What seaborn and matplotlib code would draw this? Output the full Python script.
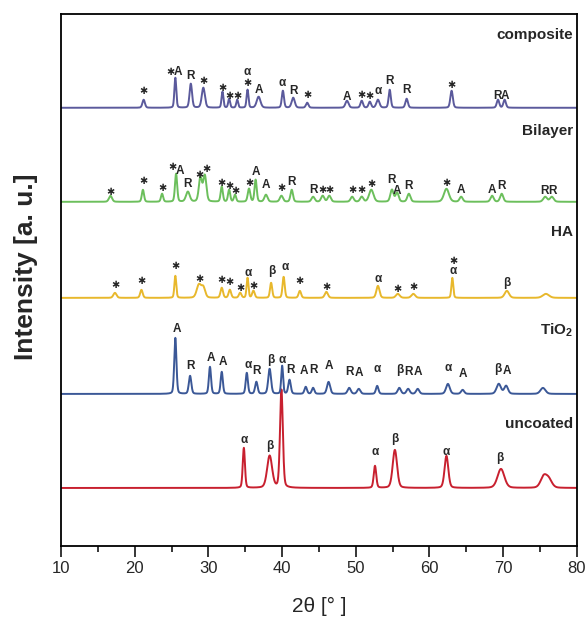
import numpy as np
import pandas as pd
import matplotlib
matplotlib.use('Agg')
import matplotlib.pyplot as plt
import seaborn as sns

# samples, bottom to top
samples = ['uncoated', 'TiO2', 'HA', 'Bilayer', 'composite']
titles = ['uncoated', 'TiO$_\\mathbf{2}$', 'HA', 'Bilayer', 'composite']
colors = ['#c8202f', '#3b5897', '#e8b82c', '#6cbf5c', '#5b5a9c']
offsets = [58, 152, 248, 344, 438]

# peaks: position [deg], height [a.u.], width [deg]
uncoated_pos = [34.8, 38.3, 39.9, 52.6, 55.3, 62.3, 69.7, 75.5, 76.2]
uncoated_hgt = [40, 32, 98, 22, 38, 32, 19, 11, 8]
uncoated_wid = [0.35, 0.8, 0.45, 0.4, 0.7, 0.6, 1.1, 1.0, 1.0]

tio2_pos = [25.5, 27.5, 30.2, 31.8, 35.2, 36.5, 38.3, 40.0, 41.0, 43.2, 44.2, 46.3,
            49.1, 50.4, 52.9, 55.9, 57.1, 58.4, 62.5, 64.5, 69.4, 70.4, 75.4]
tio2_hgt = [56, 18, 27, 22, 21, 12, 25, 28, 14, 7, 6, 12, 6, 5, 8, 6, 5, 5, 10, 4, 10, 8, 6]
tio2_wid = [0.35, 0.4, 0.35, 0.35, 0.35, 0.4, 0.45, 0.3, 0.4, 0.4, 0.4, 0.5,
            0.5, 0.5, 0.4, 0.5, 0.5, 0.5, 0.6, 0.5, 0.7, 0.6, 0.8]

ha_pos = [17.3, 20.9, 25.5, 28.7, 29.3, 31.8, 32.9, 34.3, 35.3, 36.1, 38.5, 40.2,
          42.4, 46.0, 53.0, 55.7, 57.8, 63.1, 70.5, 75.8]
ha_hgt = [5, 8, 22, 13, 10, 10, 8, 5, 20, 7, 15, 21, 7, 6, 12, 4, 4, 20, 7, 4]
ha_wid = [0.5, 0.4, 0.3, 0.7, 0.6, 0.4, 0.4, 0.4, 0.3, 0.4, 0.35, 0.35,
          0.4, 0.5, 0.5, 0.6, 0.6, 0.3, 0.7, 1.0]

bilayer_pos = [16.7, 21.1, 23.7, 25.6, 27.2, 28.9, 29.5, 31.8, 32.8, 33.6, 35.5, 36.4,
               37.8, 39.9, 41.3, 44.2, 45.5, 46.4, 49.5, 50.8, 52.1, 54.9, 55.6, 57.2,
               62.3, 64.3, 68.5, 69.8, 75.7, 76.6]
bilayer_hgt = [6, 12, 8, 28, 10, 24, 26, 15, 12, 7, 13, 22,
               7, 6, 12, 5, 6, 6, 5, 5, 12, 12, 9, 8,
               13, 5, 6, 8, 5, 5]
bilayer_wid = [0.5, 0.35, 0.35, 0.35, 0.6, 0.5, 0.5, 0.35, 0.35, 0.35, 0.4, 0.35,
               0.5, 0.5, 0.4, 0.5, 0.5, 0.5, 0.5, 0.5, 0.7, 0.5, 0.5, 0.5,
               0.8, 0.5, 0.5, 0.5, 0.6, 0.6]

composite_pos = [21.2, 25.5, 27.6, 29.3, 31.9, 32.8, 33.9, 35.3, 36.8, 40.1, 41.5,
                 43.4, 48.8, 50.8, 51.9, 53.0, 54.6, 56.9, 63.0, 69.3, 70.2]
composite_hgt = [8, 30, 24, 20, 16, 9, 8, 18, 11, 17, 10, 5, 7, 7, 6, 8, 18, 9, 17, 8, 8]
composite_wid = [0.4, 0.3, 0.4, 0.5, 0.3, 0.3, 0.3, 0.3, 0.6, 0.35, 0.5,
                 0.4, 0.5, 0.4, 0.4, 0.5, 0.35, 0.4, 0.4, 0.4, 0.4]

peaks = {
    'uncoated': (uncoated_pos, uncoated_hgt, uncoated_wid),
    'TiO2': (tio2_pos, tio2_hgt, tio2_wid),
    'HA': (ha_pos, ha_hgt, ha_wid),
    'Bilayer': (bilayer_pos, bilayer_hgt, bilayer_wid),
    'composite': (composite_pos, composite_hgt, composite_wid),
}

# phase marks: text, 2theta, height of the mark centre above the trace base
S = '\u2731'
marks = {
    'uncoated': [('α', 34.8, 48), ('β', 38.3, 42), ('α', 52.6, 36), ('β', 55.3, 49),
                 ('α', 62.3, 36), ('β', 69.6, 30)],
    'TiO2': [('A', 25.7, 65), ('R', 27.5, 28), ('A', 30.3, 36), ('A', 31.9, 32),
             ('α', 35.4, 29), ('R', 36.5, 23), ('β', 38.4, 34), ('α', 40.0, 34),
             ('R', 41.1, 24), ('A', 43.0, 23), ('R', 44.2, 24), ('A', 46.4, 28),
             ('R', 49.1, 22), ('A', 50.4, 21), ('α', 52.9, 25), ('β', 55.9, 24),
             ('R', 57.1, 22), ('A', 58.4, 22), ('α', 62.5, 26), ('A', 64.5, 20),
             ('β', 69.3, 25), ('A', 70.5, 23)],
    'HA': [(S, 17.3, 13), (S, 20.9, 17), (S, 25.5, 32), (S, 28.7, 19), (S, 31.8, 18),
           (S, 32.9, 16), (S, 34.3, 10), ('α', 35.4, 25), (S, 36.1, 12), ('β', 38.6, 27),
           ('α', 40.4, 31), (S, 42.4, 17), (S, 46.0, 11), ('α', 53.0, 19), (S, 55.7, 9),
           (S, 57.8, 11), (S, 63.2, 37), ('α', 63.2, 27), ('β', 70.5, 15)],
    'Bilayer': [(S, 16.7, 10), (S, 21.1, 21), (S, 23.7, 14), (S, 25.1, 35), ('A', 26.1, 31),
                ('R', 27.2, 18), (S, 28.8, 27), (S, 29.7, 33), (S, 31.7, 19),
                (S, 32.9, 16), (S, 33.7, 11), (S, 35.5, 19), ('A', 36.4, 30),
                ('A', 37.8, 17), (S, 39.9, 14), ('R', 41.3, 20), ('R', 44.2, 12),
                (S, 45.5, 12), (S, 46.4, 12), (S, 49.5, 12), (S, 50.8, 12),
                (S, 52.1, 18), ('R', 54.9, 22), ('A', 55.6, 11), ('R', 57.2, 16),
                (S, 62.3, 19), ('A', 64.3, 12), ('A', 68.5, 12), ('R', 69.8, 16),
                ('R', 75.6, 11), ('R', 76.7, 11)],
    'composite': [(S, 24.8, 36), (S, 21.2, 17), ('A', 25.8, 36), ('R', 27.6, 32),
                  (S, 29.3, 27), (S, 31.9, 20), (S, 32.8, 12), (S, 33.9, 12),
                  ('α', 35.3, 36), (S, 35.3, 25), ('A', 36.9, 18), ('α', 40.0, 25),
                  ('R', 41.5, 17), (S, 43.4, 13), ('A', 48.8, 11), (S, 50.8, 13),
                  (S, 51.9, 12), ('α', 53.0, 17), ('R', 54.6, 27), ('R', 56.9, 18),
                  (S, 63.0, 23), ('R', 69.2, 12), ('A', 70.3, 12)],
}

# label heights of sample names
title_y = [122, 216, 314, 415, 511]

two_theta = np.arange(10, 80.001, 0.02)


def profile(pos, hgt, wid):
    y = np.zeros_like(two_theta)
    for p, h, w in zip(pos, hgt, wid):
        u = (two_theta - p) / w
        y += h * (0.75 * np.exp(-4 * np.log(2) * u ** 2) + 0.25 / (1 + 4 * u ** 2))
    return y


frames = []
for name, off in zip(samples, offsets):
    frames.append(pd.DataFrame({'2theta': two_theta,
                                'intensity': off + profile(*peaks[name]),
                                'sample': name}))
df = pd.concat(frames, ignore_index=True)

sns.set_style('white')
plt.rcParams['font.family'] = ['Liberation Sans', 'DejaVu Sans']
plt.rcParams['mathtext.fontset'] = 'custom'
plt.rcParams['mathtext.rm'] = 'Liberation Sans'
plt.rcParams['mathtext.bf'] = 'Liberation Sans:bold'

fig, ax = plt.subplots(figsize=(5.88, 6.24), dpi=100)
fig.subplots_adjust(left=0.104, right=0.981, bottom=0.125, top=0.978)

sns.lineplot(data=df, x='2theta', y='intensity', hue='sample', hue_order=samples,
             palette=colors, estimator=None, sort=False, linewidth=1.4,
             legend=False, ax=ax)

for name, off in zip(samples, offsets):
    for txt, x, h in marks[name]:
        size = 7 if txt == S else 8.5
        ax.text(x, off + h, txt, ha='center', va='center', fontsize=size,
                fontweight='bold', family=['Liberation Sans', 'DejaVu Sans'])

for t, y in zip(titles, title_y):
    ax.text(79.5, y, t, ha='right', va='center', fontsize=11, fontweight='bold')

ax.set_xlim(10, 80)
ax.set_ylim(0, 532)
ax.set_yticks([])
ax.set_xticks(range(10, 81, 10))
ax.set_xticks(range(15, 80, 10), minor=True)
ax.tick_params(axis='x', which='major', bottom=True, length=8, width=1.3,
               direction='out', labelsize=12, pad=3)
ax.tick_params(axis='x', which='minor', bottom=True, length=4, width=1.3,
               direction='out')
for sp in ax.spines.values():
    sp.set_linewidth(1.3)
    sp.set_color('black')

ax.set_xlabel('2θ [° ]', fontsize=15, labelpad=15)
ax.set_ylabel('Intensity [a. u.]', fontsize=19, fontweight='bold')
ax.yaxis.set_label_coords(-0.045, 0.524)

plt.savefig('out.png', dpi=100)
